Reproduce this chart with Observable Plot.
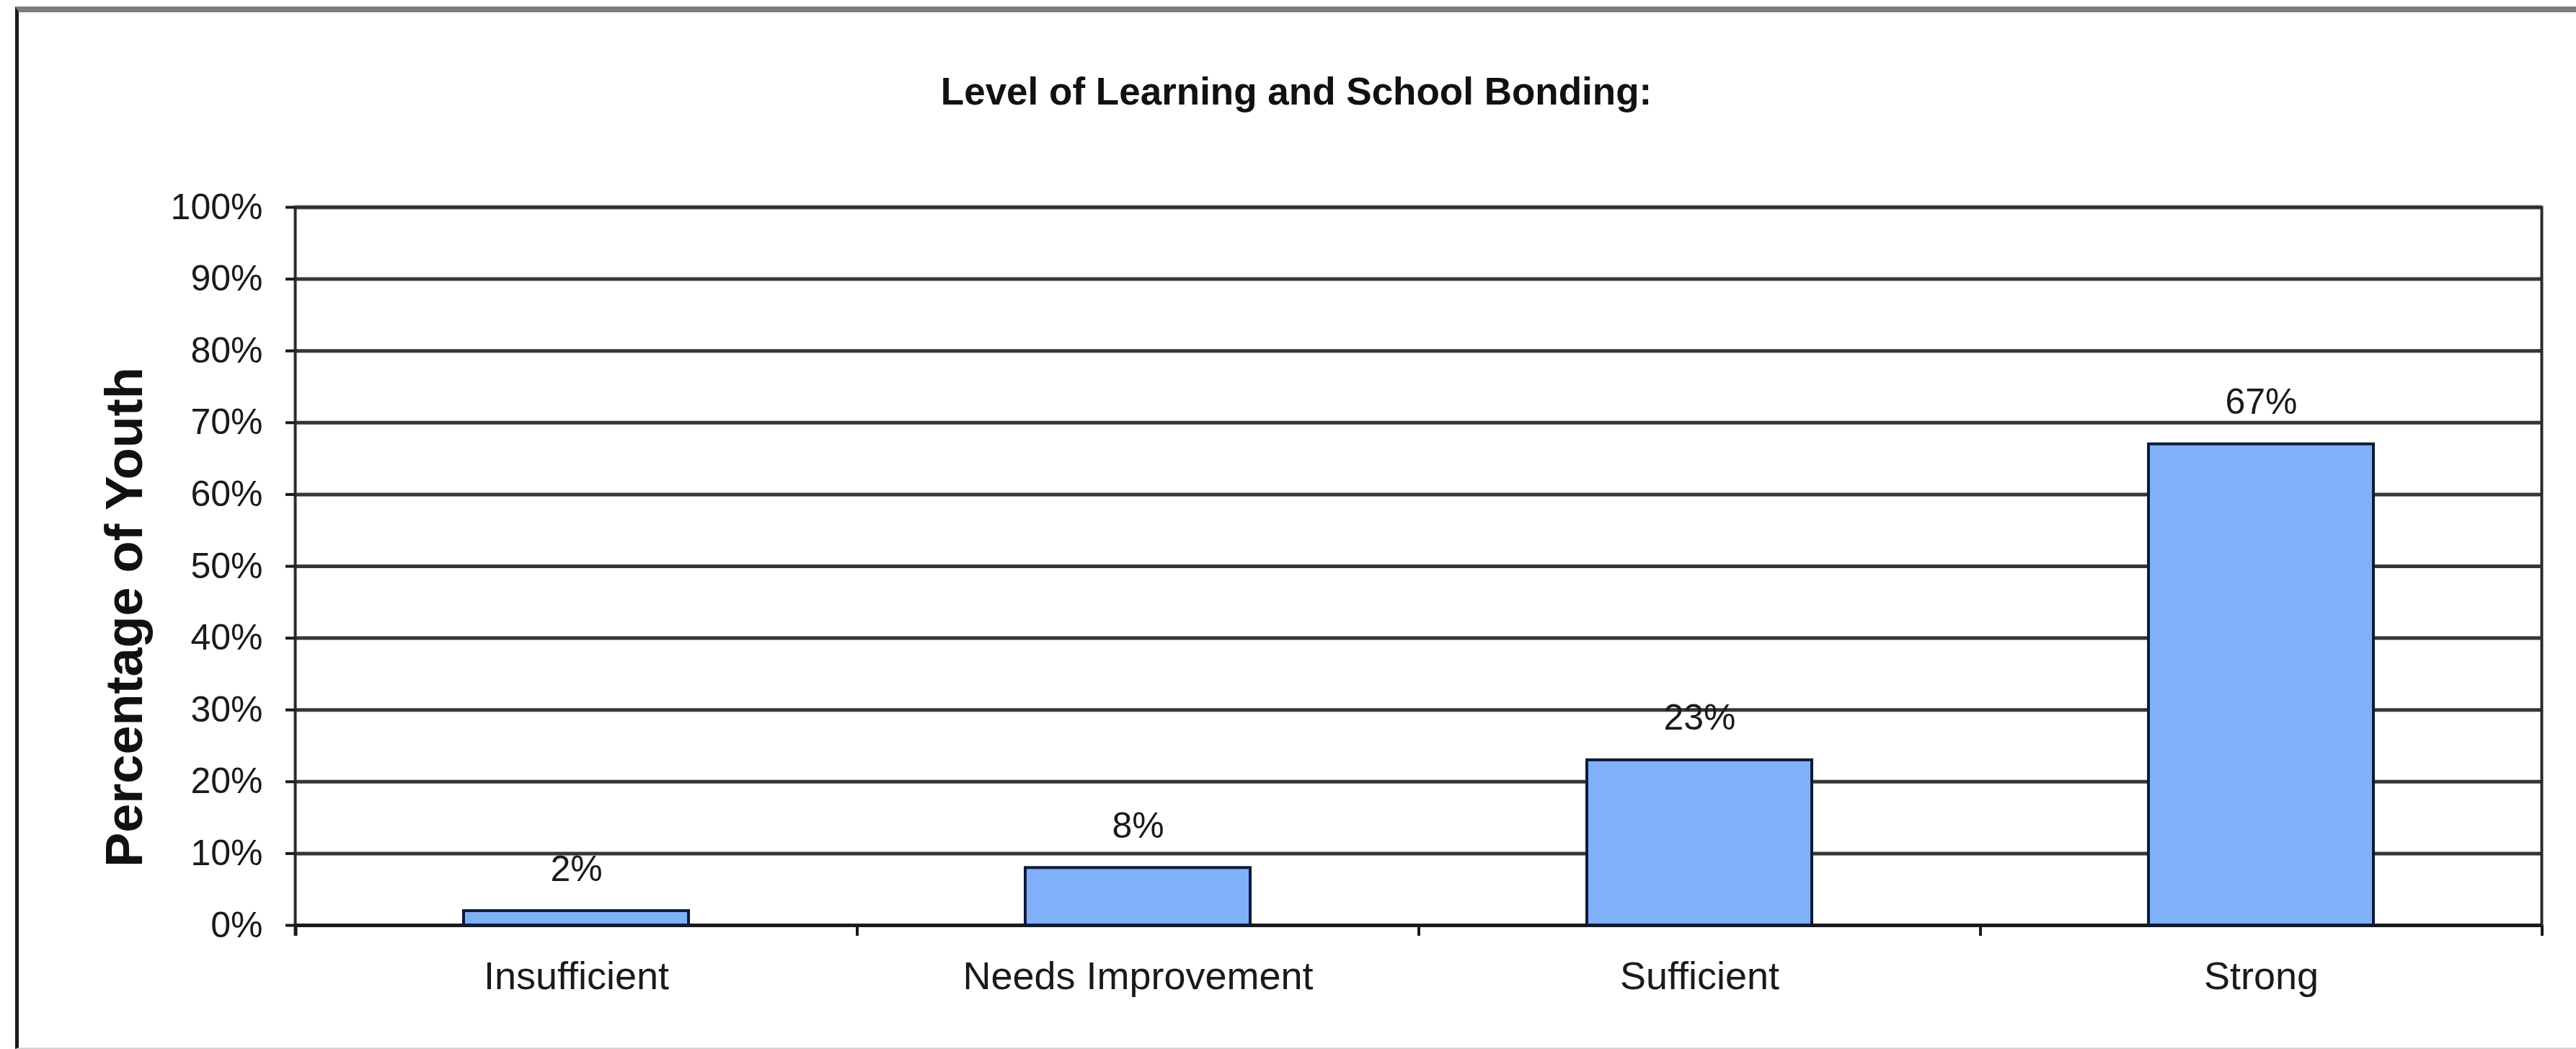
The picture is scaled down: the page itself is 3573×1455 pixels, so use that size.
<!DOCTYPE html>
<html>
<head>
<meta charset="utf-8">
<script src="https://cdn.jsdelivr.net/npm/d3@7"></script>
<script src="https://cdn.jsdelivr.net/npm/@observablehq/plot@0.6"></script>
<style>
  html, body { margin: 0; padding: 0; background: #ffffff; }
  #wrap { position: relative; width: 3573px; height: 1455px; overflow: hidden; background: #fff; font-family: "Liberation Sans", Arial, sans-serif; }
  #border { position: absolute; left: 21px; top: 9px; width: 3600px; height: 1436px; border-left: 5px solid #1a1a1a; border-top: 8px solid #7d7d7d; border-bottom: 2px solid #d4d4d4; box-sizing: content-box; pointer-events: none; }
  #title { position: absolute; left: 23px; right: 0; top: 100px; height: 54px; line-height: 54px; text-align: center; font-weight: bold; font-size: 53px; color: #111; }
  #ylabel { position: absolute; left: 172px; top: 856px; transform: translate(-50%, -50%) rotate(-90deg); white-space: nowrap; font-weight: bold; font-size: 72px; line-height: 72px; color: #111; }
  #chart { position: absolute; left: 0; top: 200px; }
</style>
</head>
<body>
<div id="wrap">
  <div id="title"></div>
  <div id="ylabel"></div>
  <div id="chart"></div>
  <div id="border"></div>
</div>
<script>
// ---- data ----
const titleText = "Level of Learning and School Bonding:";
const yLabelText = "Percentage of Youth";
const categories = ["Insufficient", "Needs Improvement", "Sufficient", "Strong"];
const values = [0.02, 0.08, 0.23, 0.67];
const valueLabels = ["2%", "8%", "23%", "67%"];
const yTicks = [0, 0.1, 0.2, 0.3, 0.4, 0.5, 0.6, 0.7, 0.8, 0.9, 1.0];
const yTickLabels = ["0%", "10%", "20%", "30%", "40%", "50%", "60%", "70%", "80%", "90%", "100%"];

const rows = categories.map((c, i) => ({cat: c, value: values[i], label: valueLabels[i]}));

document.getElementById("title").textContent = titleText;
document.getElementById("ylabel").textContent = yLabelText;

// ---- layout ----
const W = 3573, H = 1255;
const mL = 409, mR = 48, mT = 87, mB = 172;
const plotW = W - mL - mR;
const padIn = 0.6, padOut = 0.3;
const step = plotW / (categories.length - padIn + 2 * padOut);
const fontFam = "'Liberation Sans', Arial, sans-serif";

const chart = Plot.plot({
  width: W,
  height: H,
  marginLeft: mL,
  marginRight: mR,
  marginTop: mT,
  marginBottom: mB,
  style: {fontFamily: fontFam, color: "#1a1a1a", background: "transparent", overflow: "visible"},
  x: {domain: categories, paddingInner: padIn, paddingOuter: padOut, label: null},
  y: {domain: [0, 1], label: null},
  marks: [
    // horizontal gridlines
    Plot.ruleY(yTicks.filter(t => t > 0 && t < 1), {stroke: "#363636", strokeWidth: 5}),
    Plot.ruleY([1], {stroke: "#767676", strokeWidth: 6}),
    // plot frame
    Plot.frame({stroke: "#2a2a2a", strokeWidth: 4}),
    Plot.ruleY([0], {stroke: "#1a1a1a", strokeWidth: 5}),
    // category boundary ticks
    Plot.ruleX(categories, {x: d => d, dx: step / 2, y1: 0, y2: -0.015, stroke: "#1a1a1a", strokeWidth: 4}),
    Plot.ruleX([categories[0]], {x: d => d, dx: -step / 2, y1: 0, y2: -0.015, stroke: "#1a1a1a", strokeWidth: 5}),
    // bars
    Plot.barY(rows, {x: "cat", y: "value", fill: "#80b0f8", stroke: "#0d1b3a", strokeWidth: 4}),
    // value labels
    Plot.text(rows, {x: "cat", y: "value", text: "label", dy: -42, lineAnchor: "bottom", fontSize: 50, fill: "#1a1a1a"}),
    // axes
    Plot.axisY(yTicks, {
      tickSize: 13, tickPadding: 32, strokeWidth: 4, stroke: "#1a1a1a",
      tickFormat: d => yTickLabels[yTicks.indexOf(d)], fontSize: 50, label: null
    }),
    Plot.axisX({tickSize: 0, tickPadding: 50, fontSize: 54, label: null})
  ]
});

document.getElementById("chart").appendChild(chart);
</script>
</body>
</html>
